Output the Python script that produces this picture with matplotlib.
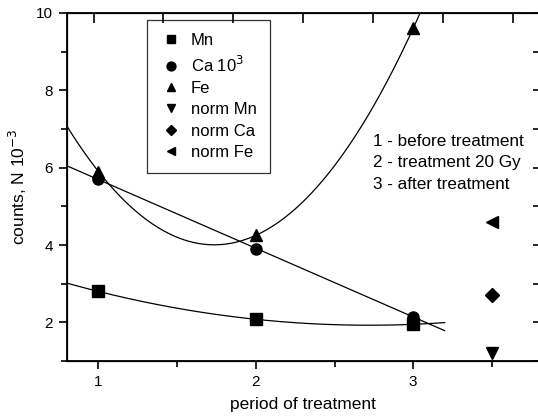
import numpy as np
import matplotlib
matplotlib.use("Agg")
import matplotlib.pyplot as plt
from matplotlib.ticker import MultipleLocator

plt.rcParams["font.family"] = ["Liberation Sans", "DejaVu Sans"]

# measured values
period = [1, 2, 3]
mn = [2.8, 2.08, 1.95]
ca = [5.7, 3.9, 2.15]
fe = [5.9, 4.25, 9.6]

norm_x = [3.5]
norm_mn = [1.2]
norm_ca = [2.7]
norm_fe = [4.6]

top_ticks = [0.97, 1.41, 1.855, 2.3, 2.743, 3.187, 3.632]
notes = ["1 - before treatment", "2 - treatment 20 Gy", "3 - after treatment"]

fig = plt.figure(figsize=(5.38, 4.16), dpi=100)
ax = fig.add_axes([0.1245, 0.132, 0.8775, 0.837])

# fitted curves
xf = np.linspace(0.8, 3.2, 200)
ax.plot(xf, np.polyval(np.polyfit(period, mn, 2), xf), color="black", lw=0.9)
ax.plot(xf, np.polyval(np.polyfit(period, ca, 1), xf), color="black", lw=0.9)
ax.plot(xf, np.polyval(np.polyfit(period, fe, 2), xf), color="black", lw=0.9)

ms = 8
ax.plot(period, mn, "s", color="black", ms=ms, label="Mn")
ax.plot(period, ca, "o", color="black", ms=ms, label="Ca 10$^{3}$")
ax.plot(period, fe, "^", color="black", ms=ms, label="Fe")
ax.plot(norm_x, norm_mn, "v", color="black", ms=ms, label="norm Mn", clip_on=False)
ax.plot(norm_x, norm_ca, "D", color="black", ms=7, label="norm Ca")
ax.plot(norm_x, norm_fe, "<", color="black", ms=ms, label="norm Fe")

ax.set_xlim(0.8, 3.8)
ax.set_ylim(1, 10)
ax.xaxis.set_major_locator(MultipleLocator(1))
ax.xaxis.set_minor_locator(MultipleLocator(0.5))
ax.yaxis.set_major_locator(MultipleLocator(2))
ax.yaxis.set_minor_locator(MultipleLocator(1))
ax.tick_params(which="major", direction="out", length=6, width=1.2, labelsize=11, pad=4)
ax.tick_params(which="minor", direction="out", length=4, width=1.2)
for s in ax.spines.values():
    s.set_linewidth(1.3)

ax.set_xlabel("period of treatment", fontsize=12.5, labelpad=6)
ax.set_ylabel("counts, N 10$^{-3}$", fontsize=12.5, labelpad=5)

# top and right axis ticks (inside)
axt = ax.twiny()
axt.set_xlim(ax.get_xlim())
axt.set_xticks(top_ticks)
axt.tick_params(axis="x", direction="in", length=7, width=1.2, labeltop=False)
axr = ax.twinx()
axr.set_ylim(ax.get_ylim())
axr.yaxis.set_major_locator(MultipleLocator(1))
axr.tick_params(axis="y", direction="in", length=4, width=1.2, labelright=False)

leg = ax.legend(loc="upper left", bbox_to_anchor=(0.17, 0.98), borderaxespad=0,
                fontsize=12, frameon=True, fancybox=False, edgecolor="black",
                handlelength=1.2, handletextpad=0.6, labelspacing=0.38,
                borderpad=0.8, markerscale=0.8)
leg.get_frame().set_linewidth(0.9)

for i, t in enumerate(notes):
    ax.text(0.648, 0.63 - i * 0.061, t, transform=ax.transAxes, fontsize=12.3,
            ha="left", va="center")

fig.savefig("out.png", dpi=100)
